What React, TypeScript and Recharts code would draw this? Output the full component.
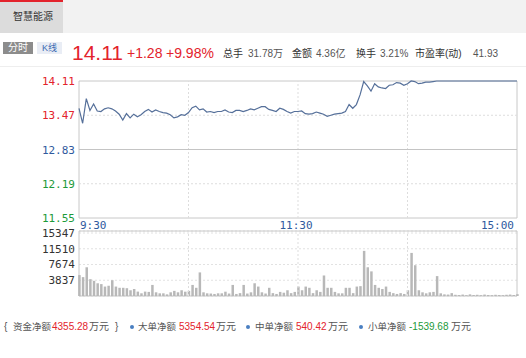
import { LineChart, Line, BarChart, Bar, XAxis, YAxis, ReferenceLine, ReferenceArea, CartesianGrid } from "recharts";

// intraday minute data, one point per 2 minutes (0..240 trading minutes)
const prevClose = 12.83;
const priceTicks = [11.55, 12.19, 12.83, 13.47, 14.11];
const timeTicks = [0, 120, 240];
const timeLabels = ["9:30", "11:30", "15:00"];
const gridMinutes = [60, 120, 180];
const volumeTicks = [3837, 7674, 11510, 15347];

const prices = [
  13.6, 13.32, 13.78, 13.56, 13.68, 13.55, 13.54, 13.59, 13.61, 13.59,
  13.55, 13.49, 13.38, 13.5, 13.42, 13.49, 13.44, 13.48, 13.54, 13.58,
  13.53, 13.57, 13.54, 13.52, 13.51, 13.48, 13.42, 13.44, 13.48, 13.47,
  13.52, 13.61, 13.64, 13.57, 13.59, 13.53, 13.54, 13.52, 13.54, 13.54,
  13.57, 13.53, 13.52, 13.56, 13.56, 13.54, 13.56, 13.59, 13.57, 13.6,
  13.63, 13.63, 13.58, 13.56, 13.54, 13.6, 13.58, 13.54, 13.51, 13.54,
  13.54, 13.55, 13.5, 13.49, 13.5, 13.53, 13.51, 13.49, 13.45, 13.47,
  13.49, 13.5, 13.51, 13.54, 13.67, 13.6, 13.67, 13.85, 14.1, 14.02,
  13.92, 14.06, 14.0, 13.98, 13.97, 14.03, 14.04, 14.08, 14.07, 14.03,
  14.06, 14.11, 14.1, 14.06, 14.07, 14.09, 14.09, 14.1, 14.11, 14.11,
  14.11, 14.11, 14.11, 14.11, 14.11, 14.11, 14.11, 14.11, 14.11, 14.11,
  14.11, 14.11, 14.11, 14.11, 14.11, 14.11, 14.11, 14.11, 14.11, 14.11,
  14.11,
];

const volumes = [
  5100, 4600, 7000, 4100, 3700, 3100, 2900, 2300, 2500, 3850,
  2300, 2000, 2000, 1900, 1400, 1700, 1070, 660, 1070, 1000,
  2700, 900, 650, 650, 400, 900, 1250, 900, 1400, 1050,
  1250, 2700, 2000, 5750, 900, 650, 600, 500, 650, 650,
  1050, 600, 2700, 500, 700, 2700, 600, 900, 3100, 2300,
  900, 600, 2000, 700, 500, 1000, 800, 1400, 700, 1000,
  2300, 1400, 2300, 2000, 700, 1400, 1000, 5000, 2000, 2000,
  1000, 650, 650, 2000, 2000, 700, 2300, 2400, 11000, 7000,
  6000, 2700, 2000, 1700, 2300, 1000, 700, 500, 700, 500,
  1400, 10500, 7500, 1400, 900, 650, 900, 1000, 4850, 650,
  400, 350, 700, 300, 250, 350, 200, 400, 250, 300,
  200, 350, 250, 200, 300, 250, 200, 300, 350, 250,
  450,
];

const priceData = prices.map((p, i) => ({ t: i * 2, p }));
const volumeData = volumes.map((v, i) => ({ t: i * 2, v }));

const RED = "#e3232c";
const GREEN = "#1d9a3a";
const BLUE = "#2f5a9e";
const MONO = "DejaVu Sans Mono";

function PriceTick({ x, y, payload }: any) {
  const v = payload.value;
  const fill = v > prevClose + 0.001 ? RED : v < prevClose - 0.001 ? GREEN : BLUE;
  return (
    <text x={x} y={y} dy={4} textAnchor="end" fill={fill} fontSize={11} fontFamily={MONO}>
      {v.toFixed(2)}
    </text>
  );
}

function TimeTick({ x, y, payload }: any) {
  const idx = timeTicks.indexOf(payload.value);
  const anchor = idx === 0 ? "start" : idx === timeTicks.length - 1 ? "end" : "middle";
  const dx = idx === 0 ? 1 : idx === timeTicks.length - 1 ? -3 : -2;
  return (
    <text x={x} y={y} dx={dx} dy={11} textAnchor={anchor} fill={BLUE} fontSize={11} fontFamily={MONO}>
      {timeLabels[idx]}
    </text>
  );
}

const Txt = ({ x, cy, size = 10, color = "#444", children }: any) => (
  <span
    style={{
      position: "absolute",
      left: x,
      top: cy - 7,
      fontSize: size,
      lineHeight: "14px",
      color,
      whiteSpace: "nowrap",
    }}
  >
    {children}
  </span>
);

const Dot = ({ x, cy }: any) => (
  <span
    style={{
      position: "absolute",
      left: x - 2,
      top: cy - 2,
      width: 4,
      height: 4,
      borderRadius: 2,
      background: "#4a7fc1",
    }}
  />
);

export default function App() {
  return (
    <div
      style={{
        position: "absolute",
        left: 0,
        top: 0,
        width: 526,
        height: 358,
        background: "#fff",
        fontFamily: '"Liberation Sans", "Noto Sans CJK SC", sans-serif',
        overflow: "hidden",
      }}
    >
      {/* tab bar */}
      <div style={{ position: "absolute", left: 0, top: 0, width: 526, height: 33, background: "#f2f2f2" }} />
      <div
        style={{
          position: "absolute",
          left: 0,
          top: 0,
          width: 63,
          height: 33,
          background: "#dcdcdc",
          borderTop: `2px solid ${RED}`,
          boxSizing: "border-box",
        }}
      />
      <Txt x={13} cy={17} size={10} color="#333">智慧能源</Txt>

      {/* quote row */}
      <div
        style={{
          position: "absolute", left: 3, top: 42, width: 30, height: 12, background: "#8c8c8c",
          color: "#fff", fontSize: 10, lineHeight: "12px", textAlign: "center",
        }}
      >
        分时
      </div>
      <div
        style={{
          position: "absolute", left: 37, top: 42, width: 25, height: 12, background: "#e9edf5",
          color: "#3d6bb3", fontSize: 9, lineHeight: "12px", textAlign: "center",
        }}
      >
        K线
      </div>
      <span style={{ position: "absolute", left: 72, top: 42, fontSize: 21, lineHeight: "21px", color: RED }}>
        14.11
      </span>
      <span style={{ position: "absolute", left: 127, top: 45, fontSize: 14, lineHeight: "16px", color: RED }}>
        +1.28
      </span>
      <span style={{ position: "absolute", left: 166, top: 45, fontSize: 14, lineHeight: "16px", color: RED }}>
        +9.98%
      </span>
      <Txt x={223} cy={54} size={10} color="#333">总手</Txt>
      <Txt x={248} cy={54} size={10} color="#555">31.78万</Txt>
      <Txt x={292} cy={54} size={10} color="#333">金额</Txt>
      <Txt x={316} cy={54} size={10} color="#555">4.36亿</Txt>
      <Txt x={356} cy={54} size={10} color="#333">换手</Txt>
      <Txt x={380} cy={54} size={10} color="#555">3.21%</Txt>
      <Txt x={415} cy={54} size={10} color="#333">市盈率(动)</Txt>
      <Txt x={473} cy={54} size={10} color="#555">41.93</Txt>
      <div style={{ position: "absolute", left: 0, top: 66, width: 526, height: 1, background: "#eeeeee" }} />

      {/* price chart */}
      <div style={{ position: "absolute", left: 0, top: 60 }}>
        <LineChart width={526} height={172} data={priceData} margin={{ top: 21, right: 9, bottom: 0, left: 0 }}>
          <XAxis
            dataKey="t"
            type="number"
            domain={[0, 240]}
            ticks={timeTicks}
            tick={<TimeTick />}
            interval={0}
            tickSize={0}
            tickMargin={0}
            height={14}
            axisLine={false}
            tickLine={false}
          />
          <YAxis
            type="number"
            domain={[11.55, 14.11]}
            ticks={priceTicks}
            tick={<PriceTick />}
            interval={0}
            tickSize={4}
            tickMargin={0}
            width={79}
            axisLine={false}
            tickLine={false}
          />
          {gridMinutes.map((m) => (
            <ReferenceLine key={m} x={m} stroke="#dddddd" strokeDasharray="2 2" />
          ))}
          <ReferenceLine y={13.47} stroke="#dddddd" strokeDasharray="2 2" />
          <ReferenceLine y={12.19} stroke="#dddddd" strokeDasharray="2 2" />
          <ReferenceLine y={prevClose} stroke="#c4c4c4" />
          <ReferenceArea x1={0} x2={240} y1={11.55} y2={14.11} stroke="#c8c8c8" fill="none" />
          <Line
            type="linear"
            dataKey="p"
            stroke="#56709a"
            strokeWidth={1.2}
            dot={false}
            isAnimationActive={false}
          />
        </LineChart>
      </div>

      {/* volume chart */}
      <div style={{ position: "absolute", left: 0, top: 226 }}>
        <BarChart width={526} height={72} data={volumeData} margin={{ top: 5, right: 9, bottom: 2, left: 0 }}>
          <CartesianGrid vertical={false} stroke="#e2e2e2" strokeDasharray="2 2" />
          <XAxis dataKey="t" type="number" domain={[0, 240]} hide />
          <YAxis
            type="number"
            domain={[0, 15840]}
            ticks={volumeTicks}
            interval={0}
            tick={{ fontSize: 11, fill: "#333", fontFamily: MONO }}
            tickSize={4}
            tickMargin={0}
            width={79}
            axisLine={false}
            tickLine={false}
          />
          {gridMinutes.map((m) => (
            <ReferenceLine key={m} x={m} stroke="#dddddd" strokeDasharray="2 2" />
          ))}
          <Bar dataKey="v" fill="#b8b8b8" barSize={2.5} isAnimationActive={false} />
          <ReferenceArea x1={0} x2={240} y1={0} y2={15840} stroke="#c8c8c8" fill="none" />
        </BarChart>
      </div>

      {/* money flow row */}
      <Txt x={4} cy={327} color="#555">{"{"}</Txt>
      <Txt x={13} cy={327} size={9.5} color="#555">资金净额</Txt>
      <Txt x={52} cy={327} color={RED}>4355.28</Txt>
      <Txt x={89} cy={327} color="#555">万元</Txt>
      <Txt x={115} cy={327} color="#555">{"}"}</Txt>
      <Dot x={132} cy={327} />
      <Txt x={138} cy={327} size={9.5} color="#555">大单净额</Txt>
      <Txt x={179} cy={327} color={RED}>5354.54</Txt>
      <Txt x={216} cy={327} color="#555">万元</Txt>
      <Dot x={248} cy={327} />
      <Txt x={255} cy={327} size={9.5} color="#555">中单净额</Txt>
      <Txt x={296} cy={327} color={RED}>540.42</Txt>
      <Txt x={328} cy={327} color="#555">万元</Txt>
      <Dot x={361} cy={327} />
      <Txt x={368} cy={327} size={9.5} color="#555">小单净额</Txt>
      <Txt x={409} cy={327} color={GREEN}>-1539.68</Txt>
      <Txt x={451} cy={327} color="#555">万元</Txt>
    </div>
  );
}
